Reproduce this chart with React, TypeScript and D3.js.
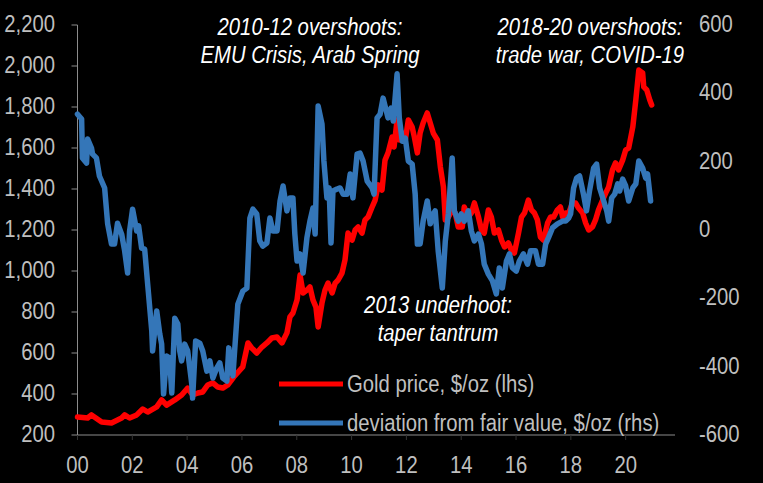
import React, { useEffect } from "react";
// @ts-ignore
import * as d3 from "d3";

// gold price, $/oz (left axis)
const goldYears = [
  2000.0, 2000.37, 2000.51, 2000.88, 2001.24, 2001.61, 2001.72, 2001.9, 2002.16, 2002.38, 2002.56, 2002.89,
  2003.07, 2003.25, 2003.55, 2003.8, 2004.02, 2004.2, 2004.39, 2004.57, 2004.75, 2004.94, 2005.12, 2005.3,
  2005.48, 2005.7, 2006.03, 2006.22, 2006.36, 2006.54, 2006.73, 2006.91, 2007.09, 2007.28, 2007.46, 2007.64,
  2007.75, 2007.86, 2008.01, 2008.12, 2008.23, 2008.37, 2008.48, 2008.59, 2008.7, 2008.78, 2008.92, 2009.03,
  2009.14, 2009.29, 2009.4, 2009.51, 2009.65, 2009.76, 2009.87, 2010.02, 2010.13, 2010.24, 2010.38, 2010.49,
  2010.6, 2010.75, 2010.86, 2010.97, 2011.11, 2011.22, 2011.33, 2011.48, 2011.55, 2011.66, 2011.74, 2011.85,
  2011.96, 2012.07, 2012.21, 2012.29, 2012.4, 2012.5, 2012.61, 2012.76, 2012.87, 2012.98, 2013.13, 2013.24,
  2013.35, 2013.42, 2013.53, 2013.67, 2013.78, 2013.89, 2014.04, 2014.11, 2014.26, 2014.37, 2014.48, 2014.63,
  2014.74, 2014.84, 2014.99, 2015.1, 2015.21, 2015.36, 2015.47, 2015.58, 2015.72, 2015.83, 2015.94, 2016.09,
  2016.2, 2016.31, 2016.45, 2016.56, 2016.67, 2016.78, 2016.89, 2017.0, 2017.15, 2017.26, 2017.37, 2017.51,
  2017.62, 2017.7, 2017.81, 2017.92, 2018.06, 2018.17, 2018.28, 2018.43, 2018.54, 2018.65, 2018.79, 2018.9,
  2019.01, 2019.16, 2019.27, 2019.38, 2019.52, 2019.63, 2019.74, 2019.89, 2020.0, 2020.11, 2020.26, 2020.37,
  2020.48, 2020.62, 2020.66, 2020.77, 2020.88, 2020.95,
];
const goldPrice = [
  288, 283, 298, 263, 259, 283, 298, 283, 298, 327, 312, 337,
  371, 346, 371, 395, 429, 395, 405, 410, 444, 454, 434, 429,
  444, 483, 532, 649, 624, 600, 629, 649, 673, 678, 649, 698,
  776, 795, 859, 980, 893, 907, 922, 859, 824, 727, 844, 907,
  941, 893, 941, 956, 990, 1054, 1185, 1151, 1200, 1215, 1185, 1249,
  1263, 1312, 1346, 1420, 1395, 1541, 1576, 1654, 1605, 1737, 1639, 1673,
  1639, 1737, 1702, 1654, 1576, 1673, 1722, 1771, 1722, 1673, 1639, 1507,
  1410, 1249, 1263, 1298, 1283, 1215, 1215, 1312, 1263, 1283, 1332, 1263,
  1200, 1185, 1298, 1263, 1185, 1200, 1151, 1117, 1137, 1102, 1088, 1185,
  1263, 1283, 1346, 1298, 1283, 1249, 1166, 1151, 1234, 1263, 1263, 1298,
  1312, 1263, 1283, 1283, 1332, 1332, 1307, 1283, 1234, 1200, 1215, 1249,
  1298, 1346, 1380, 1410, 1493, 1527, 1493, 1541, 1590, 1600, 1702, 1834,
  1980, 1966, 1898, 1883, 1834, 1810,
];

// deviation from fair value, $/oz (right axis)
const devYears = [
  2000.0, 2000.15, 2000.18, 2000.33, 2000.37, 2000.51, 2000.55, 2000.69, 2000.8, 2000.99, 2001.1, 2001.24,
  2001.35, 2001.46, 2001.61, 2001.72, 2001.83, 2001.9, 2002.01, 2002.16, 2002.23, 2002.34, 2002.45, 2002.56,
  2002.71, 2002.74, 2002.89, 2003.0, 2003.07, 2003.14, 2003.25, 2003.36, 2003.44, 2003.55, 2003.66, 2003.73,
  2003.8, 2003.91, 2004.02, 2004.17, 2004.2, 2004.31, 2004.46, 2004.57, 2004.72, 2004.83, 2004.94, 2005.08,
  2005.19, 2005.3, 2005.45, 2005.52, 2005.67, 2005.85, 2006.03, 2006.18, 2006.29, 2006.4, 2006.54, 2006.65,
  2006.76, 2006.91, 2007.02, 2007.13, 2007.28, 2007.39, 2007.5, 2007.64, 2007.75, 2007.86, 2007.93, 2008.01,
  2008.12, 2008.23, 2008.37, 2008.48, 2008.59, 2008.67, 2008.78, 2008.92, 2008.99, 2009.1, 2009.18, 2009.25,
  2009.32, 2009.47, 2009.58, 2009.69, 2009.84, 2009.95, 2010.05, 2010.2, 2010.31, 2010.42, 2010.57, 2010.75,
  2010.82, 2010.93, 2011.04, 2011.15, 2011.33, 2011.44, 2011.52, 2011.66, 2011.74, 2011.85, 2011.96, 2012.07,
  2012.21, 2012.32, 2012.4, 2012.5, 2012.61, 2012.76, 2012.87, 2012.98, 2013.05, 2013.16, 2013.31, 2013.42,
  2013.53, 2013.67, 2013.75, 2013.89, 2014.0, 2014.11, 2014.26, 2014.37, 2014.48, 2014.63, 2014.74, 2014.84,
  2014.99, 2015.14, 2015.28, 2015.39, 2015.5, 2015.65, 2015.76, 2015.87, 2016.01, 2016.12, 2016.27, 2016.42,
  2016.53, 2016.71, 2016.82, 2016.97, 2017.08, 2017.18, 2017.33, 2017.51, 2017.7, 2017.81, 2017.92, 2017.99,
  2018.1, 2018.21, 2018.32, 2018.46, 2018.57, 2018.68, 2018.83, 2018.94, 2019.05, 2019.2, 2019.31, 2019.38,
  2019.49, 2019.6, 2019.71, 2019.78, 2019.89, 2020.0, 2020.11, 2020.26, 2020.37, 2020.48, 2020.62, 2020.73,
  2020.8, 2020.91,
];
const devValue = [
  339, 325, 211, 196, 266, 240, 222, 211, 158, 123, 18, -41,
  -41, 20, -12, -61, -126, -3, 61, -3, 12, -53, -56, -158,
  -296, -354, -237, -304, -334, -480, -369, -375, -477, -258, -275, -354,
  -383, -334, -354, -451, -492, -325, -331, -354, -413, -383, -433, -404,
  -389, -433, -442, -345, -427, -217, -179, -170, 35, 61, 47, -32,
  -47, -38, 35, -3, -3, 85, 129, 56, 94, 94, -12, -91,
  -70, -126, -23, 26, 64, -12, 363, 310, 202, 94, 123, -38,
  114, 120, 123, 105, 105, 164, 94, 222, 225, 202, 143, 123,
  105, 328, 339, 386, 328, 357, 319, 457, 328, 260, 269, 202,
  193, 105, -41, -41, 26, 85, 18, 47, 56, -61, -170, -32,
  47, 211, 56, 26, 47, 26, 56, -3, -32, -12, -41, -100,
  -129, -149, -187, -111, -170, -91, -70, -111, -120, -91, -70, -100,
  -61, -61, -100, -100, -41, -23, 6, 18, 26, 26, 35, 47,
  123, 152, 158, 105, 56, 114, 181, 193, 123, 85, 56, 26,
  94, 105, 135, 114, 149, 129, 85, 123, 135, 202, 181, 152,
  164, 85,
];

const leftTicks = [200, 400, 600, 800, 1000, 1200, 1400, 1600, 1800, 2000, 2200];
const rightTicks = [-600, -400, -200, 0, 200, 400, 600];
const yearTicks = [2000, 2002, 2004, 2006, 2008, 2010, 2012, 2014, 2016, 2018, 2020];

const legendItems = [
  { label: "Gold price, $/oz (lhs)", color: "#ff0000" },
  { label: "deviation from fair value, $/oz (rhs)", color: "#3476b8" },
];

const notes = [
  { x: 310, y: 35, lines: ["2010-12 overshoots:", "EMU Crisis, Arab Spring"] },
  { x: 590, y: 35, lines: ["2018-20 overshoots:", "trade war, COVID-19"] },
  { x: 438, y: 313, lines: ["2013 underhoot:", "taper tantrum"] },
];

const W = 763;
const H = 483;
const FONT = "'Liberation Sans', Arial, sans-serif";
const FS = 20.3;
const STRETCH = "scale(1,1.15)";

export default function App() {
  useEffect(() => {
    document.body.style.margin = "0";
    document.body.style.background = "#000";
  }, []);

  const x = d3.scaleLinear().domain([2000, 2021.8]).range([77.5, 675]);
  const yL = d3.scaleLinear().domain([200, 2200]).range([435, 25]);
  const yR = d3.scaleLinear().domain([-600, 600]).range([435, 25]);

  const gold = goldYears.map((t, i) => [t, goldPrice[i]]).filter((d) => d[1] != null);
  const dev = devYears.map((t, i) => [t, devValue[i]]).filter((d) => d[1] != null);

  const goldLine = d3
    .line()
    .x((d: number[]) => x(d[0]))
    .y((d: number[]) => yL(d[1]));
  const devLine = d3
    .line()
    .x((d: number[]) => x(d[0]))
    .y((d: number[]) => yR(d[1]));

  const fmt = d3.format(",");
  const axisColor = "#8c8c8c";
  const labelColor = "#bfbfbf";

  return (
    <svg width={W} height={H} style={{ display: "block", background: "#000" }} fontFamily={FONT}>
      <rect width={W} height={H} fill="#000" />

      {/* left axis */}
      <line x1={x(2000)} x2={x(2000)} y1={yL(2200)} y2={yL(200)} stroke={axisColor} strokeWidth={1} />
      {leftTicks.map((v) => (
        <g key={"l" + v}>
          <line x1={x(2000) - 6} x2={x(2000)} y1={yL(v)} y2={yL(v)} stroke={axisColor} strokeWidth={1} />
          <text
            transform={`translate(55,${yL(v) + 7}) ${STRETCH}`}
            textAnchor="end"
            fontSize={FS}
            fill={labelColor}
          >
            {fmt(v)}
          </text>
        </g>
      ))}

      {/* right axis labels */}
      {rightTicks.map((v) => (
        <text
          key={"r" + v}
          transform={`translate(699,${yR(v) + 7}) ${STRETCH}`}
          textAnchor="start"
          fontSize={FS}
          fill={labelColor}
        >
          {v}
        </text>
      ))}

      {/* bottom axis */}
      <line x1={x(2000)} x2={x(2021.8)} y1={yL(200)} y2={yL(200)} stroke={axisColor} strokeWidth={1} />
      {yearTicks.map((t) => (
        <g key={"x" + t}>
          <line x1={x(t)} x2={x(t)} y1={yL(200)} y2={yL(200) + 5} stroke="#333" strokeWidth={1} />
          <text
            transform={`translate(${x(t)},473) ${STRETCH}`}
            textAnchor="middle"
            fontSize={FS}
            fill={labelColor}
          >
            {d3.format("02d")(t % 100)}
          </text>
        </g>
      ))}

      {/* series */}
      <path
        d={goldLine(gold)}
        fill="none"
        stroke="#ff0000"
        strokeWidth={5.5}
        strokeLinejoin="round"
        strokeLinecap="round"
      />
      <path
        d={devLine(dev)}
        fill="none"
        stroke="#3476b8"
        strokeWidth={5.5}
        strokeLinejoin="round"
        strokeLinecap="round"
      />

      {/* annotations */}
      {notes.map((n, i) =>
        n.lines.map((s, j) => (
          <text
            key={"n" + i + j}
            transform={`translate(${n.x},${n.y + j * 28}) ${STRETCH}`}
            textAnchor="middle"
            fontSize={FS}
            fontStyle="italic"
            fill="#fff"
          >
            {s}
          </text>
        ))
      )}

      {/* legend */}
      {legendItems.map((item, i) => (
        <g key={"lg" + i} transform={`translate(279,${384 + i * 39})`}>
          <line x1={0} x2={64} y1={0} y2={0} stroke={item.color} strokeWidth={5} />
          <text transform={`translate(68,8) ${STRETCH}`} fontSize={FS} fill={labelColor}>
            {item.label}
          </text>
        </g>
      ))}
    </svg>
  );
}
